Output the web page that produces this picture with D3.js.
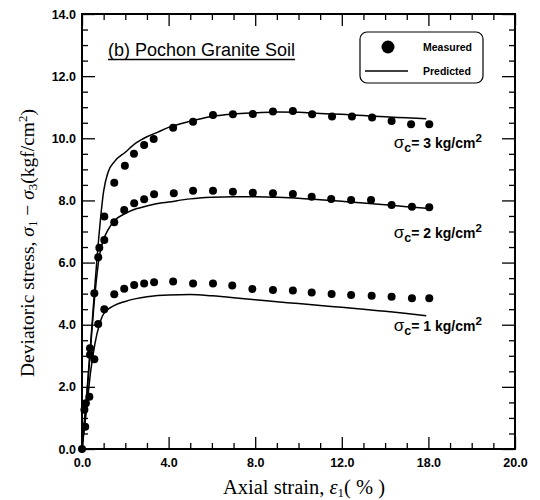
<!DOCTYPE html>
<html>
<head>
<meta charset="utf-8">
<script src="https://cdn.jsdelivr.net/npm/d3@7"></script>
<style>
  html, body { margin: 0; padding: 0; background: #fff; }
  svg { display: block; }
</style>
</head>
<body>
<svg id="chart" width="540" height="500"></svg>
<script>
// ---------- data ----------
const strainTicks = [0, 4, 8, 12, 16, 20];
const strainTickLabels = ["0.0", "4.0", "8.0", "12.0", "18.0", "20.0"];
const stressTicks = [0, 2, 4, 6, 8, 10, 12, 14];
const stressTickLabels = ["0.0", "2.0", "4.0", "6.0", "8.0", "10.0", "12.0", "14.0"];

const measured3 = [[0,0],[0.18,1.47],[0.37,3.24],[0.57,5.01],[0.80,6.48],[1.03,7.48],[1.49,8.57],[1.98,9.12],[2.40,9.50],[2.87,9.78],[3.31,9.98],[4.21,10.34],[5.13,10.53],[6.05,10.75],[6.97,10.77],[7.89,10.78],[8.82,10.86],[9.74,10.88],[10.63,10.77],[11.55,10.70],[12.47,10.70],[13.40,10.67],[14.30,10.56],[15.20,10.45],[16.04,10.45]];
const measured2 = [[0.11,1.26],[0.37,3.03],[0.75,6.17],[1.03,6.73],[1.49,7.30],[1.95,7.69],[2.41,7.91],[2.87,8.04],[3.33,8.20],[4.24,8.23],[5.13,8.31],[6.05,8.31],[6.97,8.28],[7.89,8.25],[8.82,8.23],[9.74,8.21],[10.61,8.12],[11.51,8.05],[12.43,8.01],[13.35,8.01],[14.30,7.85],[15.24,7.80],[16.04,7.78]];
const measured1 = [[0.15,0.72],[0.34,1.68],[0.57,2.89],[0.75,4.02],[1.03,4.50],[1.49,4.98],[1.95,5.16],[2.41,5.28],[2.87,5.33],[3.33,5.37],[4.21,5.39],[5.13,5.33],[6.05,5.33],[6.94,5.26],[7.87,5.15],[8.82,5.12],[9.74,5.10],[10.61,5.04],[11.53,4.99],[12.43,4.96],[13.38,4.93],[14.30,4.90],[15.24,4.85],[16.04,4.85]];

const predicted3 = [[0,0],[0.2,1.6],[0.4,3.4],[0.6,5.3],[0.8,7.0],[1.0,8.3],[1.2,8.9],[1.5,9.25],[2.0,9.55],[2.5,9.85],[3.0,10.05],[3.5,10.2],[4.0,10.35],[5.0,10.55],[6.0,10.7],[7.0,10.78],[8.0,10.82],[9.0,10.85],[10.0,10.84],[11.0,10.8],[12.0,10.77],[13.0,10.73],[14.0,10.69],[15.0,10.66],[15.9,10.63]];
const predicted2 = [[0,0],[0.2,1.5],[0.4,3.3],[0.6,5.0],[0.8,6.2],[1.0,6.75],[1.2,7.05],[1.5,7.35],[2.0,7.58],[2.5,7.73],[3.0,7.82],[3.5,7.9],[4.0,7.95],[5.0,8.05],[6.0,8.1],[7.0,8.12],[8.0,8.12],[9.0,8.1],[10.0,8.07],[11.0,8.02],[12.0,7.97],[13.0,7.92],[14.0,7.86],[15.0,7.8],[15.9,7.75]];
const predicted1 = [[0,0],[0.2,1.2],[0.4,2.5],[0.6,3.4],[0.8,4.0],[1.0,4.35],[1.5,4.62],[2.0,4.75],[2.5,4.84],[3.0,4.9],[4.0,4.96],[5.0,4.97],[6.0,4.93],[7.0,4.87],[8.0,4.8],[9.0,4.74],[10.0,4.68],[11.0,4.62],[12.0,4.56],[13.0,4.5],[14.0,4.43],[15.0,4.36],[15.9,4.29]];

const curveLabels = [
  { sigma: "3", y: 9.7 },
  { sigma: "2", y: 6.8 },
  { sigma: "1", y: 3.8 }
];

// ---------- layout ----------
const svg = d3.select("#chart");
const L = 82, R = 515, T = 14, B = 449;
const x = d3.scaleLinear().domain([0, 20]).range([L, R]);
const y = d3.scaleLinear().domain([0, 14]).range([B, T]);

const tickFont = "'Liberation Sans', Arial, sans-serif";
const serif = "'Liberation Serif', 'Times New Roman', serif";

const xMinor = d3.range(0, 21, 1).filter(v => v % 4 !== 0);
const yMinor = d3.range(0, 14.01, 0.5).filter(v => v % 2 !== 0);

function styleAxis(g) {
  g.select(".domain").remove();
  g.selectAll(".tick line").attr("stroke", "#000").attr("stroke-width", 1.3);
  g.selectAll(".tick text").attr("fill", "#000")
    .style("font-family", tickFont).style("font-size", "12.5px").style("font-weight", "bold");
}

// bottom
svg.append("g").attr("transform", `translate(0,${B})`)
  .call(d3.axisBottom(x).tickValues(strainTicks).tickSize(-12).tickPadding(9)
    .tickFormat((d, i) => strainTickLabels[i]))
  .call(styleAxis);
svg.append("g").attr("transform", `translate(0,${B})`)
  .call(d3.axisBottom(x).tickValues(xMinor).tickSize(-6).tickFormat(""))
  .call(styleAxis);
// top
svg.append("g").attr("transform", `translate(0,${T})`)
  .call(d3.axisTop(x).tickValues(strainTicks).tickSize(-12).tickFormat(""))
  .call(styleAxis);
svg.append("g").attr("transform", `translate(0,${T})`)
  .call(d3.axisTop(x).tickValues(xMinor).tickSize(-6).tickFormat(""))
  .call(styleAxis);
// left
svg.append("g").attr("transform", `translate(${L},0)`)
  .call(d3.axisLeft(y).tickValues(stressTicks).tickSize(-13).tickPadding(6)
    .tickFormat((d, i) => stressTickLabels[i]))
  .call(styleAxis);
svg.append("g").attr("transform", `translate(${L},0)`)
  .call(d3.axisLeft(y).tickValues(yMinor).tickSize(-6).tickFormat(""))
  .call(styleAxis);
// right
svg.append("g").attr("transform", `translate(${R},0)`)
  .call(d3.axisRight(y).tickValues(stressTicks).tickSize(-13).tickFormat(""))
  .call(styleAxis);
svg.append("g").attr("transform", `translate(${R},0)`)
  .call(d3.axisRight(y).tickValues(yMinor).tickSize(-6).tickFormat(""))
  .call(styleAxis);

// frame
svg.append("rect").attr("x", L).attr("y", T).attr("width", R - L).attr("height", B - T)
  .attr("fill", "none").attr("stroke", "#000").attr("stroke-width", 2);

// predicted lines
const line = d3.line().x(d => x(d[0])).y(d => y(d[1])).curve(d3.curveMonotoneX);
[predicted1, predicted2, predicted3].forEach(p => {
  svg.append("path").datum(p).attr("d", line)
    .attr("fill", "none").attr("stroke", "#000").attr("stroke-width", 1.5);
});

// measured dots
[measured1, measured2, measured3].forEach(m => {
  svg.append("g").selectAll("circle").data(m).join("circle")
    .attr("cx", d => x(d[0])).attr("cy", d => y(d[1])).attr("r", 4)
    .attr("fill", "#000");
});

// curve labels
curveLabels.forEach(c => {
  const t = svg.append("text").attr("x", x(14.4)).attr("y", y(c.y))
    .style("font-family", tickFont).style("font-size", "14px").style("font-weight", "bold")
    .attr("fill", "#000");
  t.append("tspan").text("σ").style("font-size", "17px").style("font-weight", "normal");
  t.append("tspan").text("c").attr("baseline-shift", "-30%").style("font-size", "12.5px");
  t.append("tspan").text("= " + c.sigma + " kg/cm");
  t.append("tspan").text("2").attr("baseline-shift", "super").style("font-size", "11.5px");
});

// title
const title = svg.append("text").attr("x", 108).attr("y", 56)
  .style("font-family", tickFont).style("font-size", "18px").attr("fill", "#000")
  .text("(b) Pochon Granite Soil");
const tw = title.node().getComputedTextLength();
svg.append("line").attr("x1", 108).attr("x2", 108 + tw).attr("y1", 59.5).attr("y2", 59.5)
  .attr("stroke", "#000").attr("stroke-width", 1.3);

// legend
const lg = svg.append("g");
lg.append("rect").attr("x", 360).attr("y", 32).attr("width", 123).attr("height", 51).attr("rx", 7)
  .attr("fill", "#fff").attr("stroke", "#000").attr("stroke-width", 1.2);
lg.append("circle").attr("cx", 388).attr("cy", 47).attr("r", 6.5).attr("fill", "#000");
lg.append("line").attr("x1", 365).attr("x2", 408).attr("y1", 71).attr("y2", 71)
  .attr("stroke", "#000").attr("stroke-width", 1.3);
lg.append("text").attr("x", 423).attr("y", 51).text("Measured")
  .style("font-family", tickFont).style("font-size", "10.5px").style("font-weight", "bold");
lg.append("text").attr("x", 423).attr("y", 75).text("Predicted")
  .style("font-family", tickFont).style("font-size", "10.5px").style("font-weight", "bold");

// x axis title
const xt = svg.append("text").attr("x", 304).attr("y", 494).attr("text-anchor", "middle")
  .style("font-family", serif).style("font-size", "20.5px").attr("fill", "#000");
xt.append("tspan").text("Axial strain, ");
xt.append("tspan").text("ε").style("font-style", "italic");
xt.append("tspan").text("1").attr("baseline-shift", "-25%").style("font-size", "13px");
xt.append("tspan").text("( % )");

// y axis title
const yt = svg.append("text").attr("transform", `translate(34,243) rotate(-90)`).attr("text-anchor", "middle")
  .style("font-family", serif).style("font-size", "19.5px").attr("fill", "#000");
yt.append("tspan").text("Deviatoric stress, ");
yt.append("tspan").text("σ").style("font-style", "italic");
yt.append("tspan").text("1").attr("baseline-shift", "-25%").style("font-size", "13px");
yt.append("tspan").text(" − ");
yt.append("tspan").text("σ").style("font-style", "italic");
yt.append("tspan").text("3").attr("baseline-shift", "-25%").style("font-size", "13px");
yt.append("tspan").text("(kgf/cm");
yt.append("tspan").text("2").attr("baseline-shift", "super").style("font-size", "13px");
yt.append("tspan").text(")");
</script>
</body>
</html>
